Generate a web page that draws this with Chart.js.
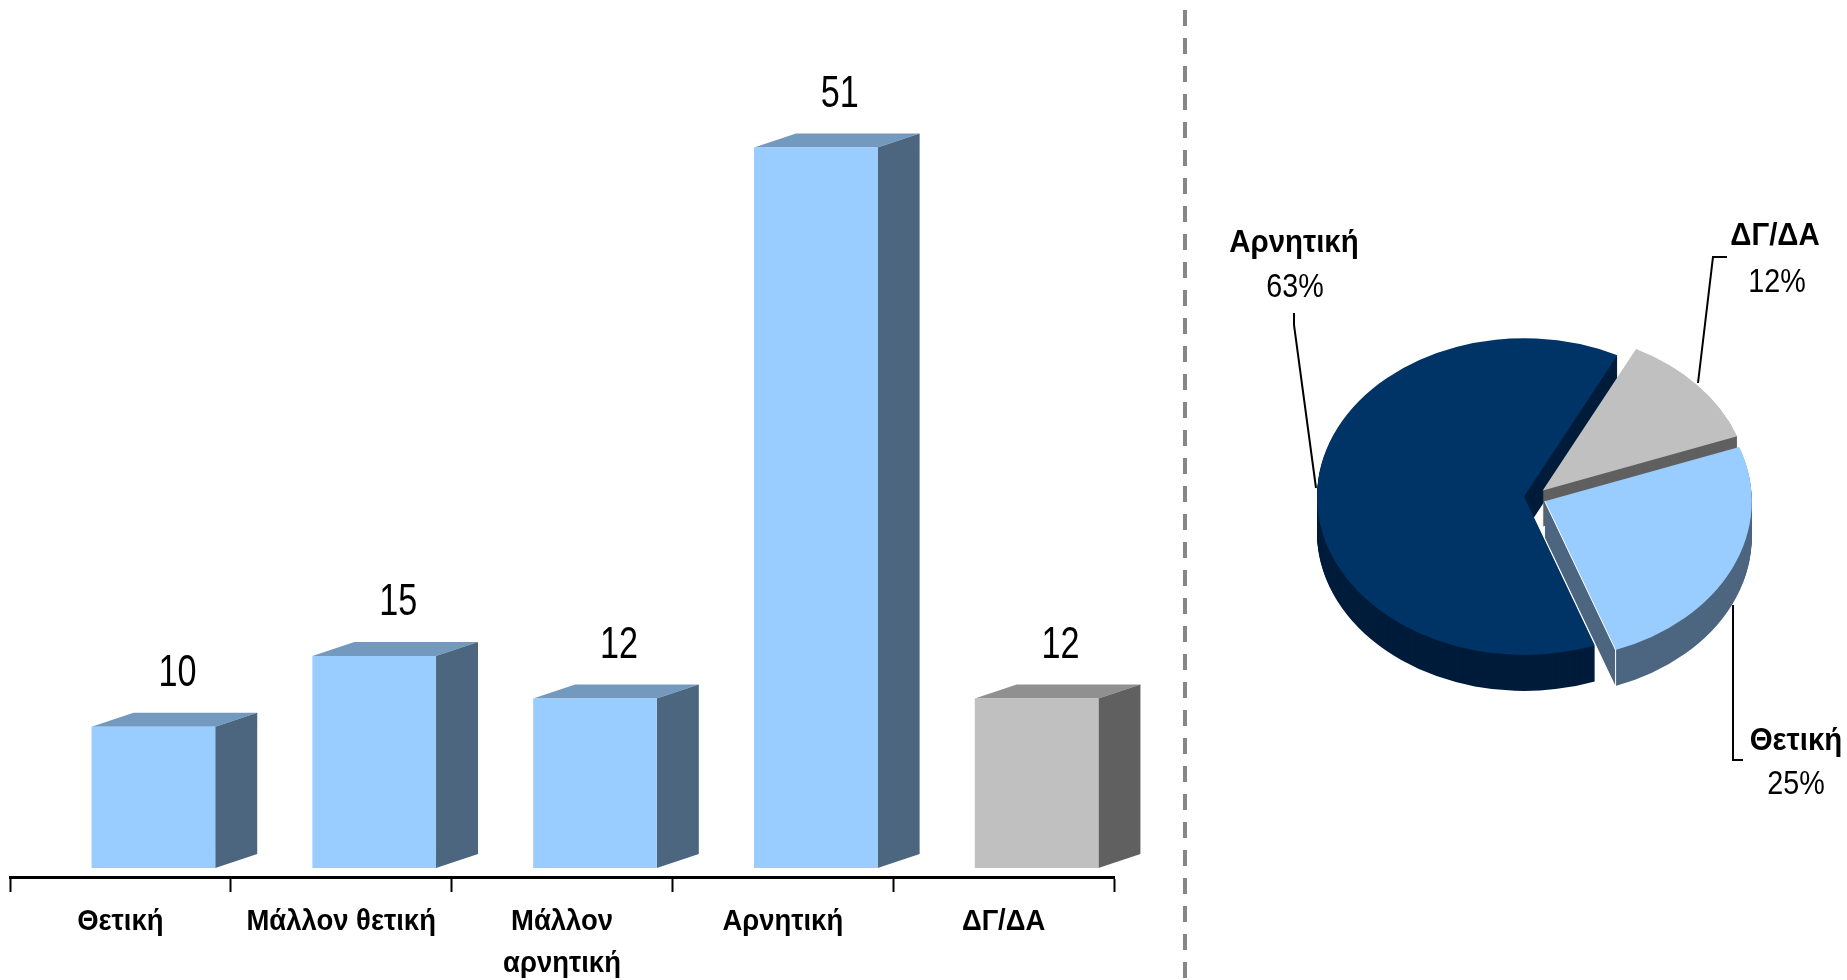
<!DOCTYPE html>
<html lang="el">
<head>
<meta charset="utf-8">
<title>Chart</title>
<script src="https://cdn.jsdelivr.net/npm/chart.js@4/dist/chart.umd.min.js"></script>
<style>
    html, body { margin: 0; padding: 0; background: #fff; width: 1847px; height: 980px; overflow: hidden; }
    #barWrap { position: absolute; left: 0; top: 0; width: 1184px; height: 980px; }
    #pieWrap { position: absolute; left: 1190px; top: 0; width: 657px; height: 980px; }
    #divider {
        position: absolute; left: 1183px; top: 10px; width: 4px; height: 970px;
        background: repeating-linear-gradient(to bottom, #868686 0 16px, transparent 16px 28px);
    }
</style>
</head>
<body>
<div id="barWrap"><canvas id="barChart"></canvas></div>
<div id="divider"></div>
<div id="pieWrap"><canvas id="pieChart"></canvas></div>
<script>
const FONT = '"Liberation Sans", sans-serif';

// Bar chart data
const BAR_LABELS = ['Θετική', 'Μάλλον θετική', ['Μάλλον', 'αρνητική'], 'Αρνητική', 'ΔΓ/ΔΑ'];
const BAR_VALUES = [10, 15, 12, 51, 12];

// Pie chart data
const PIE_LABELS = ['Θετική', 'Αρνητική', 'ΔΓ/ΔΑ'];
const PIE_VALUES = [25, 63, 12];

// Colours
const BAR_FRONT = ['#99CCFF', '#99CCFF', '#99CCFF', '#99CCFF', '#C0C0C0'];
const BAR_SIDE = ['#4D6680', '#4D6680', '#4D6680', '#4D6680', '#606060'];
const BAR_TOP = ['#7399BF', '#7399BF', '#7399BF', '#7399BF', '#909090'];
const PIE_TOP = ['#99CCFF', '#003366', '#C0C0C0'];
const PIE_SIDE = ['#4D6680', '#001C3B', '#606060'];

// 3D look
const BAR_SHIFT = 33;
const BAR_DEPTH_X = 42;
const BAR_DEPTH_Y = 14;
const PIE_SQUASH = 0.765;
const PIE_DEPTH = 36;
const PIE_EXPLODE = [13, 9, 13];
const PIE_DRAW_ORDER = [1, 2, 0];

// Label anchors of the pie [name x, name y, percent x, percent y], leader lines
const PIE_TEXT_POS = [
    [1796, 741, 1796, 785],
    [1294, 243, 1295, 288],
    [1775, 236, 1777, 283]
];
const PIE_LEADERS = [
    [[1733, 605], [1733, 760], [1743, 760]],
    [[1294, 313], [1294, 325], [1316, 488]],
    [[1727, 257], [1713, 257], [1698, 383]]
];

function polygon(ctx, points, color) {
    ctx.fillStyle = color;
    ctx.beginPath();
    points.forEach(([x, y], i) => (i ? ctx.lineTo(x, y) : ctx.moveTo(x, y)));
    ctx.closePath();
    ctx.fill();
}

// No narrow face is installed, so text is squeezed sideways
function narrowText(ctx, text, x, y, font, squeeze) {
    ctx.save();
    ctx.font = font;
    ctx.translate(x, y);
    ctx.scale(squeeze, 1);
    ctx.fillText(text, 0, 0);
    ctx.restore();
}

// Side and top faces behind each bar, values above
const bar3d = {
    id: 'bar3d',
    beforeDatasetsDraw(chart) {
        const ctx = chart.ctx;
        ctx.save();
        ctx.translate(BAR_SHIFT, 0);
        chart.getDatasetMeta(0).data.forEach((bar, i) => {
            const left = bar.x - bar.width / 2;
            const right = bar.x + bar.width / 2;
            polygon(ctx, [[left, bar.y], [left + BAR_DEPTH_X, bar.y - BAR_DEPTH_Y],
                [right + BAR_DEPTH_X, bar.y - BAR_DEPTH_Y], [right, bar.y]], BAR_TOP[i]);
            polygon(ctx, [[right, bar.y], [right + BAR_DEPTH_X, bar.y - BAR_DEPTH_Y],
                [right + BAR_DEPTH_X, bar.base - BAR_DEPTH_Y], [right, bar.base]], BAR_SIDE[i]);
        });
    },
    afterDatasetsDraw(chart) {
        const ctx = chart.ctx;
        ctx.fillStyle = '#000';
        ctx.textAlign = 'center';
        ctx.textBaseline = 'middle';
        chart.getDatasetMeta(0).data.forEach((bar, i) => {
            narrowText(ctx, String(BAR_VALUES[i]), bar.x + 24, bar.y - 53, '45px ' + FONT, 0.76);
        });
        ctx.restore();
    },
    afterDraw(chart) {
        const ctx = chart.ctx;
        const xScale = chart.scales.x;
        ctx.save();
        ctx.fillStyle = '#000';
        ctx.textAlign = 'center';
        ctx.textBaseline = 'middle';
        BAR_LABELS.forEach((label, i) => {
            [].concat(label).forEach((line, n) => {
                narrowText(ctx, line, xScale.getPixelForTick(i), 922 + n * 42, 'bold 30px ' + FONT, 0.915);
            });
        });
        ctx.restore();
    }
};

// Squashed pie with an extruded rim, slices pulled out along their middle
const pie3d = {
    id: 'pie3d',
    beforeDatasetsDraw(chart) {
        const ctx = chart.ctx;
        const arcs = chart.getDatasetMeta(0).data;
        const drawArc = (arc, i, drop, color) => {
            const mid = (arc.startAngle + arc.endAngle) / 2;
            ctx.save();
            ctx.translate(arc.x + Math.cos(mid) * PIE_EXPLODE[i],
                arc.y + Math.sin(mid) * PIE_EXPLODE[i] * PIE_SQUASH + drop);
            ctx.scale(1, PIE_SQUASH);
            ctx.translate(-arc.x, -arc.y);
            const saved = arc.options;
            arc.options = Object.assign({}, saved, { backgroundColor: color });
            arc.draw(ctx);
            arc.options = saved;
            ctx.restore();
        };
        PIE_DRAW_ORDER.forEach(i => {
            for (let d = PIE_DEPTH; d > 0; d--) drawArc(arcs[i], i, d, PIE_SIDE[i]);
            drawArc(arcs[i], i, 0, PIE_TOP[i]);
        });

        // White hairline on the front cut of the blue slice
        const blue = arcs[0];
        const mid = (blue.startAngle + blue.endAngle) / 2;
        const ax = blue.x + Math.cos(mid) * PIE_EXPLODE[0];
        const ay = blue.y + Math.sin(mid) * PIE_EXPLODE[0] * PIE_SQUASH;
        const ex = ax + Math.cos(blue.endAngle) * blue.outerRadius;
        const ey = ay + Math.sin(blue.endAngle) * blue.outerRadius * PIE_SQUASH;
        ctx.save();
        ctx.strokeStyle = '#fff';
        ctx.lineWidth = 1;
        ctx.beginPath();
        ctx.moveTo(ax, ay);
        ctx.lineTo(ex, ey);
        ctx.lineTo(ex, ey + PIE_DEPTH);
        ctx.stroke();
        ctx.restore();
        return false;
    },
    afterDraw(chart) {
        const ctx = chart.ctx;
        const left = chart.canvas.getBoundingClientRect().left;
        ctx.save();
        ctx.translate(-left, 0);
        ctx.strokeStyle = '#000';
        ctx.lineWidth = 2;
        PIE_LEADERS.forEach(points => {
            ctx.beginPath();
            points.forEach(([x, y], i) => (i ? ctx.lineTo(x, y) : ctx.moveTo(x, y)));
            ctx.stroke();
        });
        ctx.fillStyle = '#000';
        ctx.textAlign = 'center';
        ctx.textBaseline = 'middle';
        PIE_LABELS.forEach((label, i) => {
            const [nx, ny, px, py] = PIE_TEXT_POS[i];
            narrowText(ctx, label, nx, ny, 'bold 32px ' + FONT, 0.92);
            narrowText(ctx, PIE_VALUES[i] + '%', px, py, '33px ' + FONT, 0.87);
        });
        ctx.restore();
    }
};

new Chart(document.getElementById('barChart').getContext('2d'), {
    type: 'bar',
    data: {
        labels: BAR_LABELS,
        datasets: [{
            data: BAR_VALUES,
            backgroundColor: BAR_FRONT,
            borderWidth: 0,
            barPercentage: 0.56,
            categoryPercentage: 1,
            clip: false
        }]
    },
    options: {
        responsive: true,
        maintainAspectRatio: false,
        animation: false,
        layout: { padding: { left: 10, right: 70, top: 16, bottom: 0 } },
        plugins: { legend: { display: false }, tooltip: { enabled: false } },
        scales: {
            y: { display: false, min: -0.636, max: 60.3 },
            x: {
                afterFit(scale) { scale.height = 103; },
                border: { display: true, color: '#000', width: 3 },
                grid: { drawOnChartArea: false, drawTicks: true, tickLength: 15, tickWidth: 2, tickColor: '#000' },
                ticks: { display: false, maxRotation: 0, autoSkip: false }
            }
        }
    },
    plugins: [bar3d]
});

new Chart(document.getElementById('pieChart').getContext('2d'), {
    type: 'pie',
    data: {
        labels: PIE_LABELS,
        datasets: [{
            data: PIE_VALUES,
            backgroundColor: PIE_TOP,
            borderWidth: 0,
            radius: 207,
            rotation: 70
        }]
    },
    options: {
        responsive: true,
        maintainAspectRatio: false,
        animation: false,
        layout: { padding: { left: 29, top: 14 } },
        plugins: { legend: { display: false }, tooltip: { enabled: false } }
    },
    plugins: [pie3d]
});
</script>
</body>
</html>
